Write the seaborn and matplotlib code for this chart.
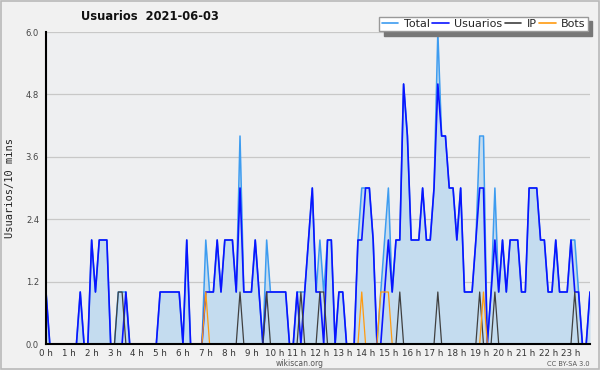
import numpy as np
import pandas as pd
import seaborn as sns
import matplotlib
matplotlib.use("Agg")
import matplotlib.pyplot as plt
from matplotlib.ticker import MultipleLocator, FixedLocator
from matplotlib.lines import Line2D
from matplotlib.patches import Rectangle

# ---- data (10-minute slots, 144 per day) ----
usuarios = [1, 0, 0, 0, 0, 0, 0, 0, 0, 1, 0, 0, 2, 1, 2, 2, 2, 0, 0, 0,
            0, 1, 0, 0, 0, 0, 0, 0, 0, 0, 1, 1, 1, 1, 1, 1, 0, 2, 0, 0,
            0, 0, 1, 1, 1, 2, 1, 2, 2, 2, 1, 3, 1, 1, 1, 2, 1, 0, 1, 1,
            1, 1, 1, 1, 0, 0, 1, 0, 1, 2, 3, 1, 1, 0, 2, 2, 0, 1, 1, 0,
            0, 0, 2, 2, 3, 3, 2, 0, 0, 1, 2, 1, 2, 2, 5, 4, 2, 2, 2, 3,
            2, 2, 3, 5, 4, 4, 3, 3, 2, 3, 1, 1, 1, 2, 3, 3, 0, 1, 2, 1,
            2, 1, 2, 2, 2, 1, 1, 3, 3, 3, 2, 2, 1, 1, 2, 1, 1, 1, 2, 1,
            1, 0, 0, 1]
total = [1, 0, 0, 0, 0, 0, 0, 0, 0, 1, 0, 0, 2, 1, 2, 2, 2, 0, 0, 1,
         1, 1, 0, 0, 0, 0, 0, 0, 0, 0, 1, 1, 1, 1, 1, 1, 0, 2, 0, 0,
         0, 0, 2, 1, 1, 2, 1, 2, 2, 2, 1, 4, 1, 1, 1, 2, 1, 0, 2, 1,
         1, 1, 1, 1, 0, 0, 1, 1, 1, 2, 3, 1, 2, 1, 2, 2, 0, 1, 1, 0,
         0, 0, 2, 3, 3, 3, 2, 0, 1, 2, 3, 1, 2, 2, 5, 4, 2, 2, 2, 3,
         2, 2, 3, 6, 4, 4, 3, 3, 2, 3, 1, 1, 1, 2, 4, 4, 0, 1, 3, 1,
         2, 1, 2, 2, 2, 1, 1, 3, 3, 3, 2, 2, 1, 1, 2, 1, 1, 1, 2, 2,
         1, 0, 0, 1]
ip = [0] * 144
for k in [19, 20, 51, 58, 67, 72, 73, 93, 103, 114, 118, 139]:
    ip[k] = 1
bots = [0] * 144
for k in [42, 83, 88, 89, 90, 115]:
    bots[k] = 1

hour_labels = [f"{h} h" for h in range(24)]
title = "Usuarios  2021-06-03"
ylabel = "Usuarios/10 mins"

slot = list(range(len(usuarios)))
df = pd.DataFrame({"slot": slot, "Total": total, "Usuarios": usuarios,
                   "IP": ip, "Bots": bots})

# ---- style ----
sns.set_style("white")
plt.rcParams["font.family"] = ["DejaVu Sans"]

C_TOTAL = "#3d9cf0"
C_FILL = "#c4dcef"
C_USER = "#0a14ff"
C_IP = "#404040"
C_BOTS = "#ff9b10"
BG = "#eeeff1"

fig = plt.figure(figsize=(6, 3.7), dpi=100, facecolor="#f1f1f1")
fig.add_artist(Rectangle((0.0015, 0.0025), 0.997, 0.995, transform=fig.transFigure,
                         fill=False, edgecolor="#b9b9b9", linewidth=1.2))
ax = fig.add_axes([46 / 600, 26 / 370, 544 / 600, 312 / 370])
ax.set_facecolor(BG)

ax.fill_between(df["slot"], df["Total"], 0, color=C_FILL, linewidth=0, zorder=1)
sns.lineplot(data=df, x="slot", y="Total", ax=ax, color=C_TOTAL, linewidth=1.1, zorder=2)
sns.lineplot(data=df, x="slot", y="Usuarios", ax=ax, color=C_USER, linewidth=1.2, zorder=3)
sns.lineplot(data=df, x="slot", y="IP", ax=ax, color=C_IP, linewidth=0.9, zorder=4)
sns.lineplot(data=df, x="slot", y="Bots", ax=ax, color=C_BOTS, linewidth=0.9, zorder=5)

ax.set_xlim(0, len(slot) - 1)
ax.set_ylim(0, 6.0)
ax.set_xlabel("")
ax.set_ylabel("")

ax.yaxis.set_major_locator(MultipleLocator(1.2))
ax.yaxis.set_minor_locator(MultipleLocator(0.3))
ax.set_yticklabels([f"{v:.1f}" for v in ax.get_yticks()])
ax.xaxis.set_major_locator(FixedLocator([6 * h for h in range(24)]))
ax.xaxis.set_minor_locator(MultipleLocator(1))
ax.set_xticklabels(hour_labels)

ax.tick_params(axis="y", which="major", length=4, width=1, color="black",
               labelsize=6, labelcolor="#444444", pad=1)
ax.tick_params(axis="y", which="minor", length=3, width=1, color="black")
ax.tick_params(axis="x", which="major", length=3.5, width=1.2, color="black",
               labelsize=6.3, labelcolor="#333333", pad=0)
ax.tick_params(axis="x", which="minor", length=3, width=1.2, color="black")

ax.grid(axis="y", which="major", color="#c8c8c8", linewidth=0.9)
ax.set_axisbelow(True)
for s in ["top", "right"]:
    ax.spines[s].set_visible(False)
ax.spines["left"].set_color("black")
ax.spines["left"].set_linewidth(1.5)
ax.spines["bottom"].set_color("black")
ax.spines["bottom"].set_linewidth(1.5)
ax.spines["left"].set_zorder(6)
ax.spines["bottom"].set_zorder(6)

# title and labels
fig.text(150 / 600, 1 - 16 / 370, title, ha="center", va="center",
         fontsize=8.3, fontweight="bold", color="#111111")
fig.text(10 / 600, 1 - 188 / 370, ylabel, rotation=90, ha="center", va="center",
         fontsize=7.5, family=["DejaVu Sans Mono"], color="#222222")
fig.text(300 / 600, 1 - 363.5 / 370, "wikiscan.org", ha="center", va="center",
         fontsize=5.5, color="#555555")
fig.text(590 / 600, 1 - 363.5 / 370, "CC BY-SA 3.0", ha="right", va="center",
         fontsize=4.8, color="#555555")

# legend
handles = [Line2D([], [], color=C_TOTAL, lw=1.2),
           Line2D([], [], color=C_USER, lw=1.2),
           Line2D([], [], color=C_IP, lw=1.2),
           Line2D([], [], color=C_BOTS, lw=1.2)]
leg = fig.legend(handles, ["Total", "Usuarios", "IP", "Bots"], ncol=4,
                 loc="upper right", bbox_to_anchor=(588 / 600, 1 - 17 / 370),
                 fontsize=8, frameon=True, fancybox=False,
                 shadow={"color": "#777777", "alpha": 1, "ox": 3, "oy": -3},
                 handlelength=1.5, handletextpad=0.5, columnspacing=0.2,
                 borderpad=0.2, borderaxespad=0)
leg.get_frame().set_edgecolor("#999999")
leg.get_frame().set_facecolor("white")
leg.get_frame().set_linewidth(1)

fig.savefig("out.png", dpi=100, facecolor=fig.get_facecolor())
